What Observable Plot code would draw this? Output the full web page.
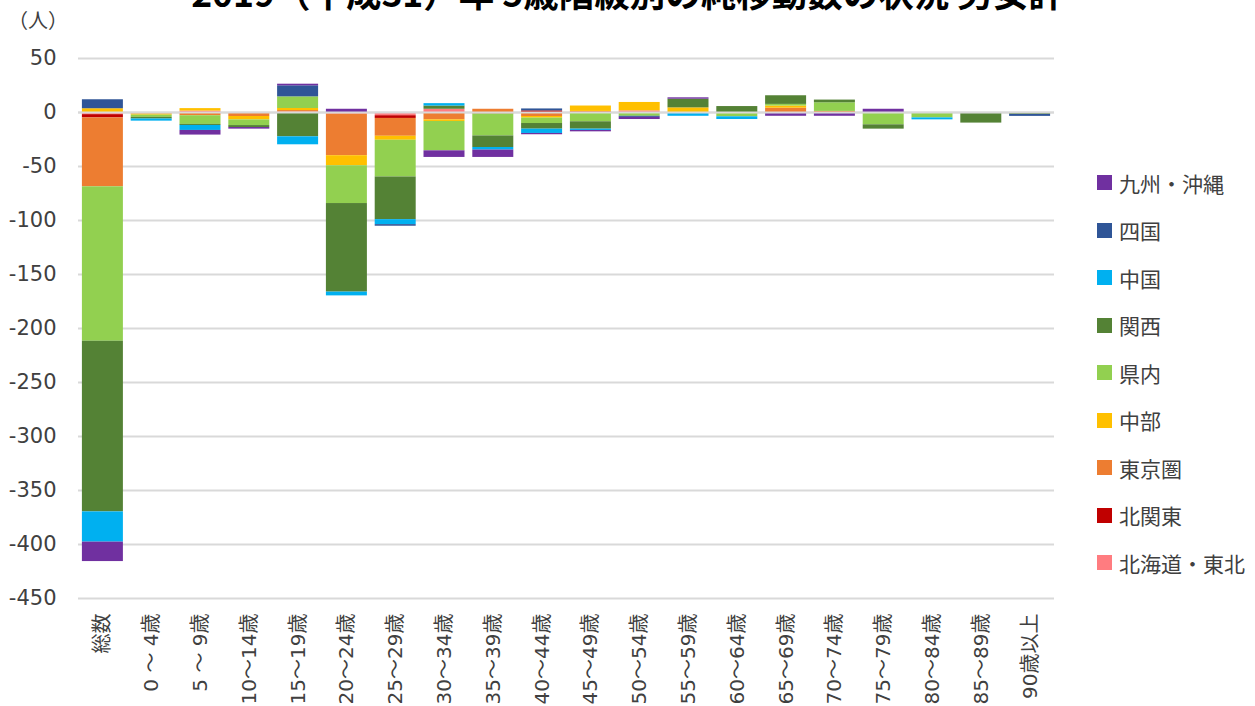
<!DOCTYPE html>
<html lang="ja">
<head>
<meta charset="utf-8">
<script src="https://cdn.jsdelivr.net/npm/d3@7"></script>
<script src="https://cdn.jsdelivr.net/npm/@observablehq/plot@0.6"></script>
<style>
  html, body { margin: 0; padding: 0; background: #fff; }
  body { width: 1255px; height: 706px; position: relative; overflow: hidden;
         font-family: "Noto Sans CJK JP", "DejaVu Sans", sans-serif; }
  #title { position: absolute; left: 0; width: 1255px; top: -26.5px; text-align: center;
           font-size: 35.5px; line-height: 35.5px; font-weight: 700; color: #000; white-space: nowrap; }
  #unit { position: absolute; left: 8px; top: 8px; font-size: 20px; line-height: 24px; color: #404040; }
  #chart { position: absolute; left: 0; top: 0; }
  #chart svg g[aria-label="y-axis tick label"] text { font-size: 21px; }
  #legend { position: absolute; left: 1097px; top: 159px; }
  .item { height: 47.5px; display: flex; align-items: center; font-size: 21px; color: #404040; }
  .sw { width: 15px; height: 15px; margin-right: 7px; flex: none; }
</style>
</head>
<body>
<div id="chart"></div>
<div id="title">2019（平成31）年 5歳階級別の純移動数の状況 男女計</div>
<div id="unit">（人）</div>
<div id="legend"></div>
<script>
const categories = ["総数","0 ～ 4歳","5 ～ 9歳","10～14歳","15～19歳","20～24歳","25～29歳","30～34歳","35～39歳","40～44歳","45～49歳","50～54歳","55～59歳","60～64歳","65～69歳","70～74歳","75～79歳","80～84歳","85～89歳","90歳以上"];

// stacking order: first series is closest to zero
const seriesNames = ["北海道・東北","北関東","東京圏","中部","県内","関西","中国","四国","九州・沖縄"];

const hokkaidoTohoku = [-2, -0.5, 1.3, 0, 0.5, -1.5, -3, 3, 0, 0, 0, 1.5, 0, 0, 0, 0, 0, 0, 0, 0];
const kitaKanto      = [-3, 0, 0, 0, 0, 0, -2.5, 0, -1.3, 1.5, 0, 0, 0, 0, 0, 0, 0, 0, 0, 0];
const tokyoArea      = [-63.8, -1, -3, -3.7, 1.3, -38.5, -16.5, -6.8, 3, -3.7, 1, 0, 0, -0.5, 4, 1, -1, 0, 0, 0];
const chubu          = [3.5, -1, 2.3, -3.2, 1.9, -9.3, -3.7, -1.5, 0, -1.5, 5, 7.8, 4.3, -0.5, 2, 0, 0, 0, 0, 0];
const kennai         = [-143, -2, -8, -5.2, 10.8, -35, -34, -27.2, -20.4, -5, -8.6, -3.5, -1, -3, 1.5, 8, -10.4, -5, -1, 0];
const kansai         = [-158, -1.5, -1, -1.8, -22.5, -82, -39.5, 3, -10.7, -5.2, -6.8, 0, 8, 5.5, 8, 2.5, -4, 0, -8.8, -1.8];
const chugoku        = [-28, -2, -4.6, 0, -7.4, -3.5, -4.6, 2.2, -2.4, -4, -1.2, 0, -2.5, -2.5, 0, 0, 0, -1.8, 0, 0];
const shikoku        = [8.3, 0, 0, 0, 10.2, 0, -1.5, 0, 0, 1.8, 0, -1, 0, 0, -1, -1, 0, 0, 0, -1.8];
const kyushuOkinawa  = [-18, 0, -4.3, -1.5, 1.5, 3, 0, -6.1, -6.8, -1.2, -1.3, -2, 1.3, 0, -2.5, -2.5, 3, 0, 0, 0];

const seriesValues = [hokkaidoTohoku, kitaKanto, tokyoArea, chubu, kennai, kansai, chugoku, shikoku, kyushuOkinawa];
const seriesColors = ["#FF7C80","#C00000","#ED7D31","#FFC000","#92D050","#548235","#00B0F0","#2F5597","#7030A0"];
const yTicks = [-450,-400,-350,-300,-250,-200,-150,-100,-50,0,50];
const legendOrder = ["九州・沖縄","四国","中国","関西","県内","中部","東京圏","北関東","北海道・東北"];

const rows = [];
seriesNames.forEach((s, i) => {
  seriesValues[i].forEach((v, j) => rows.push({category: categories[j], series: s, value: v}));
});

const chart = Plot.plot({
  width: 1255,
  height: 706,
  marginLeft: 78,
  marginRight: 201,
  marginTop: 58,
  marginBottom: 108,
  style: {fontFamily: "'DejaVu Sans', 'Noto Sans CJK JP', sans-serif", fontSize: "20px", color: "#404040", background: "transparent"},
  x: {domain: categories, round: false, paddingInner: 0.16, paddingOuter: 0.08, tickRotate: -90, tickSize: 0, tickPadding: 15, label: null},
  y: {domain: [-450, 50], ticks: yTicks, tickFormat: d => String(d), tickSize: 0, tickPadding: 22, label: null},
  color: {domain: seriesNames, range: seriesColors},
  marks: [
    Plot.ruleY(yTicks, {stroke: "#d9d9d9", strokeWidth: 2}),
    Plot.barY(rows, {x: "category", y: "value", fill: "series"}),
    Plot.ruleY([0], {stroke: "#d9d9d9", strokeWidth: 2})
  ]
});
document.getElementById("chart").appendChild(chart);

const legend = document.getElementById("legend");
const colorOf = Object.fromEntries(seriesNames.map((s, i) => [s, seriesColors[i]]));
legendOrder.forEach(name => {
  const item = document.createElement("div");
  item.className = "item";
  const sw = document.createElement("div");
  sw.className = "sw";
  sw.style.background = colorOf[name];
  const label = document.createElement("span");
  label.textContent = name;
  item.appendChild(sw);
  item.appendChild(label);
  legend.appendChild(item);
});
</script>
</body>
</html>
